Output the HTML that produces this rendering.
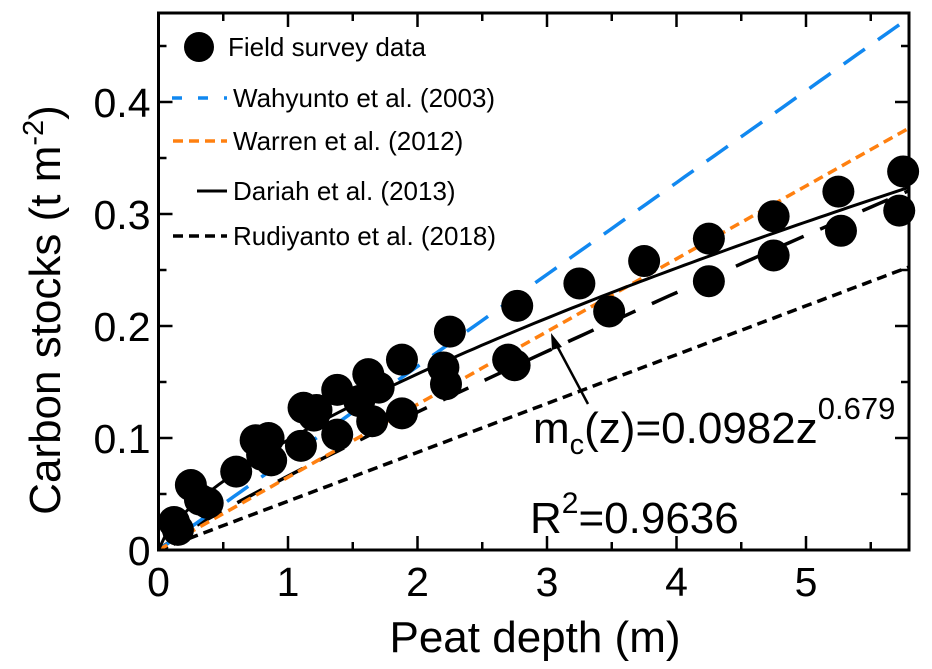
<!DOCTYPE html>
<html><head><meta charset="utf-8"><style>
body{margin:0;background:#fff;position:relative}
svg{display:block;font-family:"Liberation Sans",sans-serif}
</style></head><body>
<svg id="c" width="932" height="669" xmlns="http://www.w3.org/2000/svg"></svg>
<script>
const xTicks=[0,1,2,3,4,5];
const yTicks=[0,0.1,0.2,0.3,0.4];
const yTickLabels=["0","0.1","0.2","0.3","0.4"];
const fieldX=[0.12,0.15,0.25,0.32,0.38,0.6,0.75,0.8,0.85,0.87,1.1,1.12,1.2,1.22,1.38,1.38,1.55,1.62,1.65,1.7,1.88,1.88,2.2,2.22,2.25,2.7,2.75,2.77,3.25,3.48,3.75,4.25,4.25,4.75,4.75,5.25,5.27,5.75,5.72];
const fieldY=[0.025,0.018,0.058,0.045,0.042,0.07,0.098,0.085,0.1,0.08,0.093,0.127,0.12,0.125,0.143,0.103,0.133,0.157,0.115,0.145,0.17,0.122,0.163,0.148,0.195,0.17,0.165,0.218,0.238,0.213,0.258,0.278,0.24,0.298,0.263,0.32,0.285,0.338,0.303];
const slopeWahyunto=0.082, slopeWarren=0.065, slopeRudiyanto=0.0436;
const dariahA=0.0982, dariahB=0.679;
const fitA=0.066, fitB=0.9;
const x0=158.5,xs=129.5,y0=550,ys=1120,xMax=5.8,plotRight=909,plotTop=13;
const X=v=>x0+v*xs, Y=v=>y0-v*ys;
const svg=document.getElementById('c');
const NS='http://www.w3.org/2000/svg';
function mk(t,a,p){const e=document.createElementNS(NS,t);for(const k in a)e.setAttribute(k,a[k]);(p||svg).appendChild(e);return e;}
function curve(f,name,style){let d='';for(let i=0;i<=100;i++){const z=xMax*i/100;d+=(i?'L':'M')+X(z).toFixed(1)+','+Y(f(z)).toFixed(1);}
const p=mk('path',Object.assign({d:d,fill:'none'},style));

}
curve(z=>slopeRudiyanto*z,'rudiyanto-line',{stroke:'#000','stroke-width':3.5,'stroke-dasharray':'10,6'});
curve(z=>fitA*Math.pow(z,fitB),'long-dash-line',{stroke:'#000','stroke-width':3.5,'stroke-dasharray':'28,18'});
curve(z=>slopeWahyunto*z,'wahyunto-line',{stroke:'#1188f0','stroke-width':3.5,'stroke-dasharray':'26,16'});
curve(z=>slopeWarren*z,'warren-line',{stroke:'#ff8010','stroke-width':3.5,'stroke-dasharray':'10,6'});
curve(z=>dariahA*Math.pow(z,dariahB),'dariah-line',{stroke:'#000','stroke-width':3});
for(let i=0;i<fieldX.length;i++){const c=mk('circle',{cx:X(fieldX[i]),cy:Y(fieldY[i]),r:16,fill:'#000'});

}
const fr=mk('rect',{x:x0,y:plotTop,width:plotRight-x0,height:y0-plotTop,fill:'none',stroke:'#000','stroke-width':3});


for(let v=0;v<=xMax;v+=0.5){const major=Math.abs(v-Math.round(v))<1e-6;const L=major?14:8;
mk('line',{x1:X(v),x2:X(v),y1:y0,y2:y0-L,stroke:'#000','stroke-width':2.5});
mk('line',{x1:X(v),x2:X(v),y1:plotTop,y2:plotTop+L,stroke:'#000','stroke-width':2.5});}
for(let v=0;v<=0.46;v+=0.05){const major=Math.abs(v*10-Math.round(v*10))<1e-6;const L=major?14:8;
mk('line',{x1:x0,x2:x0+L,y1:Y(v),y2:Y(v),stroke:'#000','stroke-width':2.5});
mk('line',{x1:plotRight,x2:plotRight-L,y1:Y(v),y2:Y(v),stroke:'#000','stroke-width':2.5});}
xTicks.forEach(v=>{const t=mk('text',{x:X(v),y:y0+46,'font-size':41,'text-anchor':'middle'});t.textContent=v;

});
yTicks.forEach((v,i)=>{const t=mk('text',{x:x0-8,y:Y(v)+15,'font-size':41,'text-anchor':'end'});t.textContent=yTickLabels[i];

});
</script>
<svg width="932" height="669" style="position:absolute;left:0;top:0" font-family="Liberation Sans, sans-serif">
<text x="535" y="652" font-size="44" text-anchor="middle">Peat depth (m)</text>
<text transform="translate(60,310) rotate(-90)" font-size="44" text-anchor="middle">Carbon stocks (t m<tspan dy="-17" font-size="29">-2</tspan><tspan dy="17">)</tspan></text>
<g font-size="26">
<circle cx="199" cy="47" r="15" fill="#000"/>
<text x="228" y="56">Field survey data</text>
<line x1="172" x2="227" y1="98" y2="98" stroke="#1188f0" stroke-width="3.5" stroke-dasharray="10,16"/>
<text x="233" y="107">Wahyunto et al. (2003)</text>
<line x1="173" x2="227" y1="141" y2="141" stroke="#ff8010" stroke-width="3.5" stroke-dasharray="10,6"/>
<text x="233" y="150">Warren et al. (2012)</text>
<line x1="197" x2="227" y1="191" y2="191" stroke="#000" stroke-width="3"/>
<text x="233" y="200">Dariah et al. (2013)</text>
<line x1="173" x2="227" y1="236" y2="236" stroke="#000" stroke-width="3.5" stroke-dasharray="10,6"/>
<text x="233" y="245">Rudiyanto et al. (2018)</text>
</g>
<g>
<line x1="588" y1="404" x2="556" y2="344" stroke="#000" stroke-width="2.5"/>
<polygon points="551,333 562,347 552,350" fill="#000"/>
</g>
<text x="533" y="443" font-size="44">m<tspan font-size="29" dy="11">c</tspan><tspan dy="-11">(z)=0.0982z</tspan><tspan font-size="31" dy="-24">0.679</tspan></text>
<text x="530" y="533" font-size="44">R<tspan font-size="30" dy="-20">2</tspan><tspan dy="20">=0.9636</tspan></text>
</svg>
</body></html>
